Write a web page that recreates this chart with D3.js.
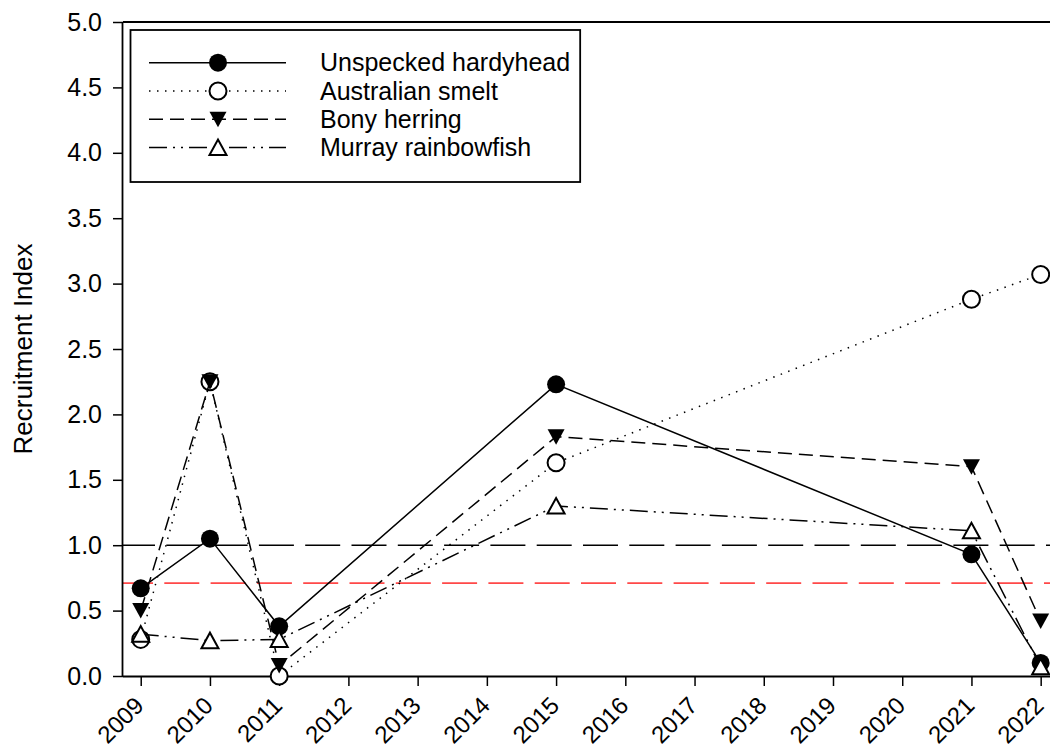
<!DOCTYPE html>
<html>
<head>
<meta charset="utf-8">
<script src="https://cdn.jsdelivr.net/npm/d3@7"></script>
<style>
  body { margin: 0; background: #fff; }
  text { font-family: Arial, "Liberation Sans", sans-serif; fill: #000; }
</style>
</head>
<body>
<svg id="chart" width="1050" height="749"></svg>
<script>
// years and values
var years = [2009, 2010, 2011, 2015, 2021, 2022];
var tickYears = [2009, 2010, 2011, 2012, 2013, 2014, 2015, 2016, 2017, 2018, 2019, 2020, 2021, 2022];
var yTicks = [0, 0.5, 1, 1.5, 2, 2.5, 3, 3.5, 4, 4.5, 5];

var hardyhead = [0.67, 1.05, 0.38, 2.23, 0.93, 0.10];
var smelt = [0.28, 2.25, 0.00, 1.63, 2.88, 3.07];
var herring = [0.50, 2.25, 0.08, 1.83, 1.60, 0.42];
var rainbowfish = [0.32, 0.27, 0.28, 1.30, 1.11, 0.07];

var seriesNames = ["Unspecked hardyhead", "Australian smelt", "Bony herring", "Murray rainbowfish"];
var refLines = [1.0, 0.71];

var series = [
  { name: seriesNames[0], values: hardyhead, dash: null, marker: "dot" },
  { name: seriesNames[1], values: smelt, dash: "1.5,6.5", marker: "ring" },
  { name: seriesNames[2], values: herring, dash: "14,7", marker: "down" },
  { name: seriesNames[3], values: rainbowfish, dash: "18,6,2,6,2,6", marker: "up" }
];

var svg = d3.select("#chart");
var pLeft = 123, pRight = 1058.4, pTop = 22, pBottom = 676;

var x = d3.scaleLinear().domain([2008.744, 2022.256]).range([pLeft, pRight]);
var y = d3.scaleLinear().domain([0, 5]).range([pBottom, pTop]);

// reference lines
svg.append("line")
  .attr("x1", pLeft).attr("x2", pRight)
  .attr("y1", y(refLines[0])).attr("y2", y(refLines[0]))
  .attr("stroke", "#000").attr("stroke-width", 1.5)
  .attr("stroke-dasharray", "35,11.3").attr("stroke-dashoffset", 3);
svg.append("line")
  .attr("x1", pLeft).attr("x2", pRight)
  .attr("y1", y(refLines[1])).attr("y2", y(refLines[1]))
  .attr("stroke", "#ff4848").attr("stroke-width", 1.8)
  .attr("stroke-dasharray", "35,11.3").attr("stroke-dashoffset", 5);

// top frame line
svg.append("line")
  .attr("x1", pLeft).attr("x2", pRight).attr("y1", pTop).attr("y2", pTop)
  .attr("stroke", "#000").attr("stroke-width", 1.8);

// axes
var yAxis = svg.append("g")
  .attr("transform", "translate(" + pLeft + ",0)")
  .call(d3.axisLeft(y).tickValues(yTicks).tickFormat(d3.format(".1f")).tickSize(10).tickPadding(11));
var xAxis = svg.append("g")
  .attr("transform", "translate(0," + pBottom + ")")
  .call(d3.axisBottom(x).tickValues(tickYears).tickFormat(d3.format("d")).tickSize(10));

[yAxis, xAxis].forEach(function (g) {
  g.select(".domain").attr("stroke-width", 1.8);
  g.selectAll(".tick line").attr("stroke-width", 1.5);
  g.selectAll("text").style("font-size", "25px").attr("fill", "#000");
});
xAxis.select(".domain").attr("d", "M" + pLeft + ",0.5H" + pRight);
yAxis.select(".domain").attr("d", "M-0.5," + pTop + "V" + pBottom);

xAxis.selectAll(".tick text")
  .style("font-size", "24px")
  .attr("text-anchor", "end")
  .attr("y", 0).attr("dy", 0)
  .attr("transform", "translate(4,31) rotate(-45)");

svg.append("text")
  .attr("transform", "translate(32," + ((pTop + pBottom) / 2) + ") rotate(-90)")
  .attr("text-anchor", "middle")
  .style("font-size", "26px")
  .text("Recruitment Index");

function drawMarker(g, type) {
  if (type === "dot") {
    g.append("circle").attr("r", 9).attr("fill", "#000");
  } else if (type === "ring") {
    g.append("circle").attr("r", 8.5).attr("fill", "#fff").attr("stroke", "#000").attr("stroke-width", 2);
  } else if (type === "down") {
    g.append("path").attr("d", "M-8.5,-7.5L8.5,-7.5L0,8Z").attr("fill", "#000");
  } else {
    g.append("path").attr("d", "M-8.5,7.5L8.5,7.5L0,-8Z")
      .attr("fill", "#fff").attr("stroke", "#000").attr("stroke-width", 2).attr("stroke-linejoin", "miter");
  }
}

var line = d3.line()
  .x(function (d) { return x(d[0]); })
  .y(function (d) { return y(d[1]); });

series.forEach(function (s) {
  var pts = years.map(function (yr, i) { return [yr, s.values[i]]; });
  svg.append("path")
    .attr("d", line(pts))
    .attr("fill", "none")
    .attr("stroke", "#000")
    .attr("stroke-width", 1.5)
    .attr("stroke-dasharray", s.dash);
  pts.forEach(function (p) {
    var g = svg.append("g").attr("transform", "translate(" + x(p[0]) + "," + y(p[1]) + ")");
    drawMarker(g, s.marker);
  });
});

// legend
var legend = svg.append("g");
var legendBox = legend.append("rect")
  .attr("x", 130.5).attr("y", 30)
  .attr("height", 152)
  .attr("fill", "#fff").attr("stroke", "#000").attr("stroke-width", 1.8);

var maxEnd = 0;
series.forEach(function (s, i) {
  var ly = 62.7 + i * 28.3;
  legend.append("line")
    .attr("x1", 149).attr("x2", 286).attr("y1", ly).attr("y2", ly)
    .attr("stroke", "#000").attr("stroke-width", 1.5)
    .attr("stroke-dasharray", s.dash);
  drawMarker(legend.append("g").attr("transform", "translate(218," + ly + ")"), s.marker);
  var t = legend.append("text")
    .attr("x", 320).attr("y", ly).attr("dy", "0.35em")
    .style("font-size", "25px")
    .text(s.name);
  var bb = t.node().getBBox();
  maxEnd = Math.max(maxEnd, bb.x + bb.width);
});
legendBox.attr("width", maxEnd + 10 - 130.5);
</script>
</body>
</html>
